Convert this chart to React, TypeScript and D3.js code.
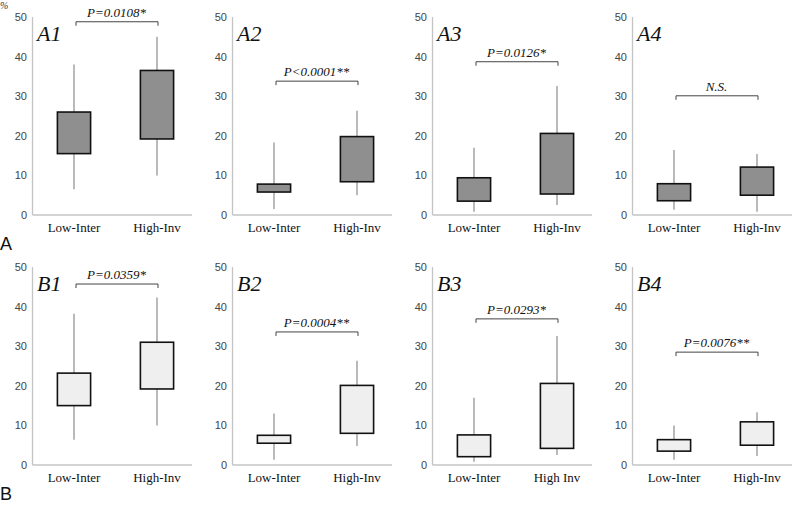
import React from "react";
import * as d3 from "d3";

const panelNames = ["A1", "A2", "A3", "A4", "B1", "B2", "B3", "B4"];
const groupLow = ["Low-Inter", "Low-Inter", "Low-Inter", "Low-Inter", "Low-Inter", "Low-Inter", "Low-Inter", "Low-Inter"];
const groupHigh = ["High-Inv", "High-Inv", "High-Inv", "High-Inv", "High-Inv", "High-Inv", "High Inv", "High-Inv"];
// [min, q1, q3, max]
const lowStats = [
  [6.5, 15.5, 26, 38],
  [1.5, 5.8, 7.8, 18.3],
  [0.8, 3.5, 9.4, 17],
  [1.3, 3.6, 7.9, 16.4],
  [6.4, 15, 23.2, 38.2],
  [1.3, 5.5, 7.5, 13],
  [0.8, 2.1, 7.6, 17],
  [1.3, 3.5, 6.4, 10],
];
const highStats = [
  [10, 19.2, 36.5, 45],
  [5, 8.4, 19.8, 26.3],
  [2.5, 5.3, 20.6, 32.6],
  [0.8, 5, 12.1, 15.4],
  [10, 19.2, 31, 42.3],
  [4.8, 8, 20.1, 26.3],
  [2.5, 4.2, 20.6, 32.6],
  [2.3, 5, 10.9, 13.3],
];
const pLabels = ["P=0.0108*", "P<0.0001**", "P=0.0126*", "N.S.", "P=0.0359*", "P=0.0004**", "P=0.0293*", "P=0.0076**"];
const bracketLevels = [48.8, 33.8, 38.7, 30.1, 45.7, 33.6, 36.9, 28.5];
const yTicks = [0, 10, 20, 30, 40, 50];
const rowLabels = ["A", "B"];
const rowFills = ["#8f8f8f", "#efefef"];

const SERIF = "Liberation Serif, DejaVu Serif, Times New Roman, serif";
const SANS = "Liberation Sans, Arial, sans-serif";

function Panel({ i }: { i: number }) {
  const row = Math.floor(i / 4);
  const col = i % 4;
  const left = col * 200;
  const bottom = row === 0 ? 215 : 465;
  const top = bottom - 198;
  const y = d3.scaleLinear().domain([0, 50]).range([bottom, top]);
  const x = d3.scaleBand<number>().domain([0, 1]).range([left + 32.5, left + 198.5]);
  const bw = x.bandwidth() * 0.4;
  const stats = [lowStats[i], highStats[i]];
  const cats = [groupLow[i], groupHigh[i]];
  const cx = (k: number) => (x(k) as number) + x.bandwidth() / 2;
  const by = y(bracketLevels[i]);
  return (
    <g>
      <line x1={left + 32.5} x2={left + 32.5} y1={top} y2={bottom} stroke="#c4c4c4" strokeWidth={1.3} />
      <line x1={left + 32.5} x2={left + 192} y1={bottom} y2={bottom} stroke="#c4c4c4" strokeWidth={1.3} />
      {yTicks.map((t) => (
        <text key={t} x={left + 27} y={y(t) + 4} textAnchor="end" fontSize={11}
          style={{ fontFamily: SANS }} fill="#444">{t}</text>
      ))}
      {stats.map((s, k) => (
        <g key={k}>
          <line x1={cx(k)} x2={cx(k)} y1={y(s[0])} y2={y(s[3])} stroke="#808080" strokeWidth={1.1} />
          <rect x={cx(k) - bw / 2} y={y(s[2])} width={bw} height={y(s[1]) - y(s[2])}
            fill={rowFills[row]} stroke="#111" strokeWidth={1.6} />
          <text x={cx(k)} y={bottom + 17} textAnchor="middle" fontSize={13} style={{ fontFamily: SERIF }} fill="#111">{cats[k]}</text>
        </g>
      ))}
      <path d={`M${cx(0) + 2},${by + 4}V${by}H${cx(1) + 1}V${by + 4}`} fill="none" stroke="#444" strokeWidth={1} />
      <text x={(cx(0) + cx(1)) / 2 + 1} y={by - 5} textAnchor="middle" fontSize={13} fontStyle="italic"
        style={{ fontFamily: SERIF }} fill="#111">{pLabels[i]}</text>
      <text x={left + 37} y={top + 24} fontSize={22} fontStyle="italic" style={{ fontFamily: SERIF }} fill="#111">{panelNames[i]}</text>
    </g>
  );
}

export default function App() {
  return (
    <svg width={800} height={506} style={{ position: "absolute", left: 0, top: 0, background: "#fff" }}>
      <rect width={800} height={506} fill="#fff" />
      <text x={0} y={9} fontSize={10} fontStyle="italic" style={{ fontFamily: SERIF }} fill="#333">%</text>
      {panelNames.map((_, i) => <Panel key={i} i={i} />)}
      {rowLabels.map((r, k) => (
        <text key={r} x={0} y={250 + k * 250} fontSize={18} style={{ fontFamily: SANS }} fill="#111">{r}</text>
      ))}
    </svg>
  );
}
